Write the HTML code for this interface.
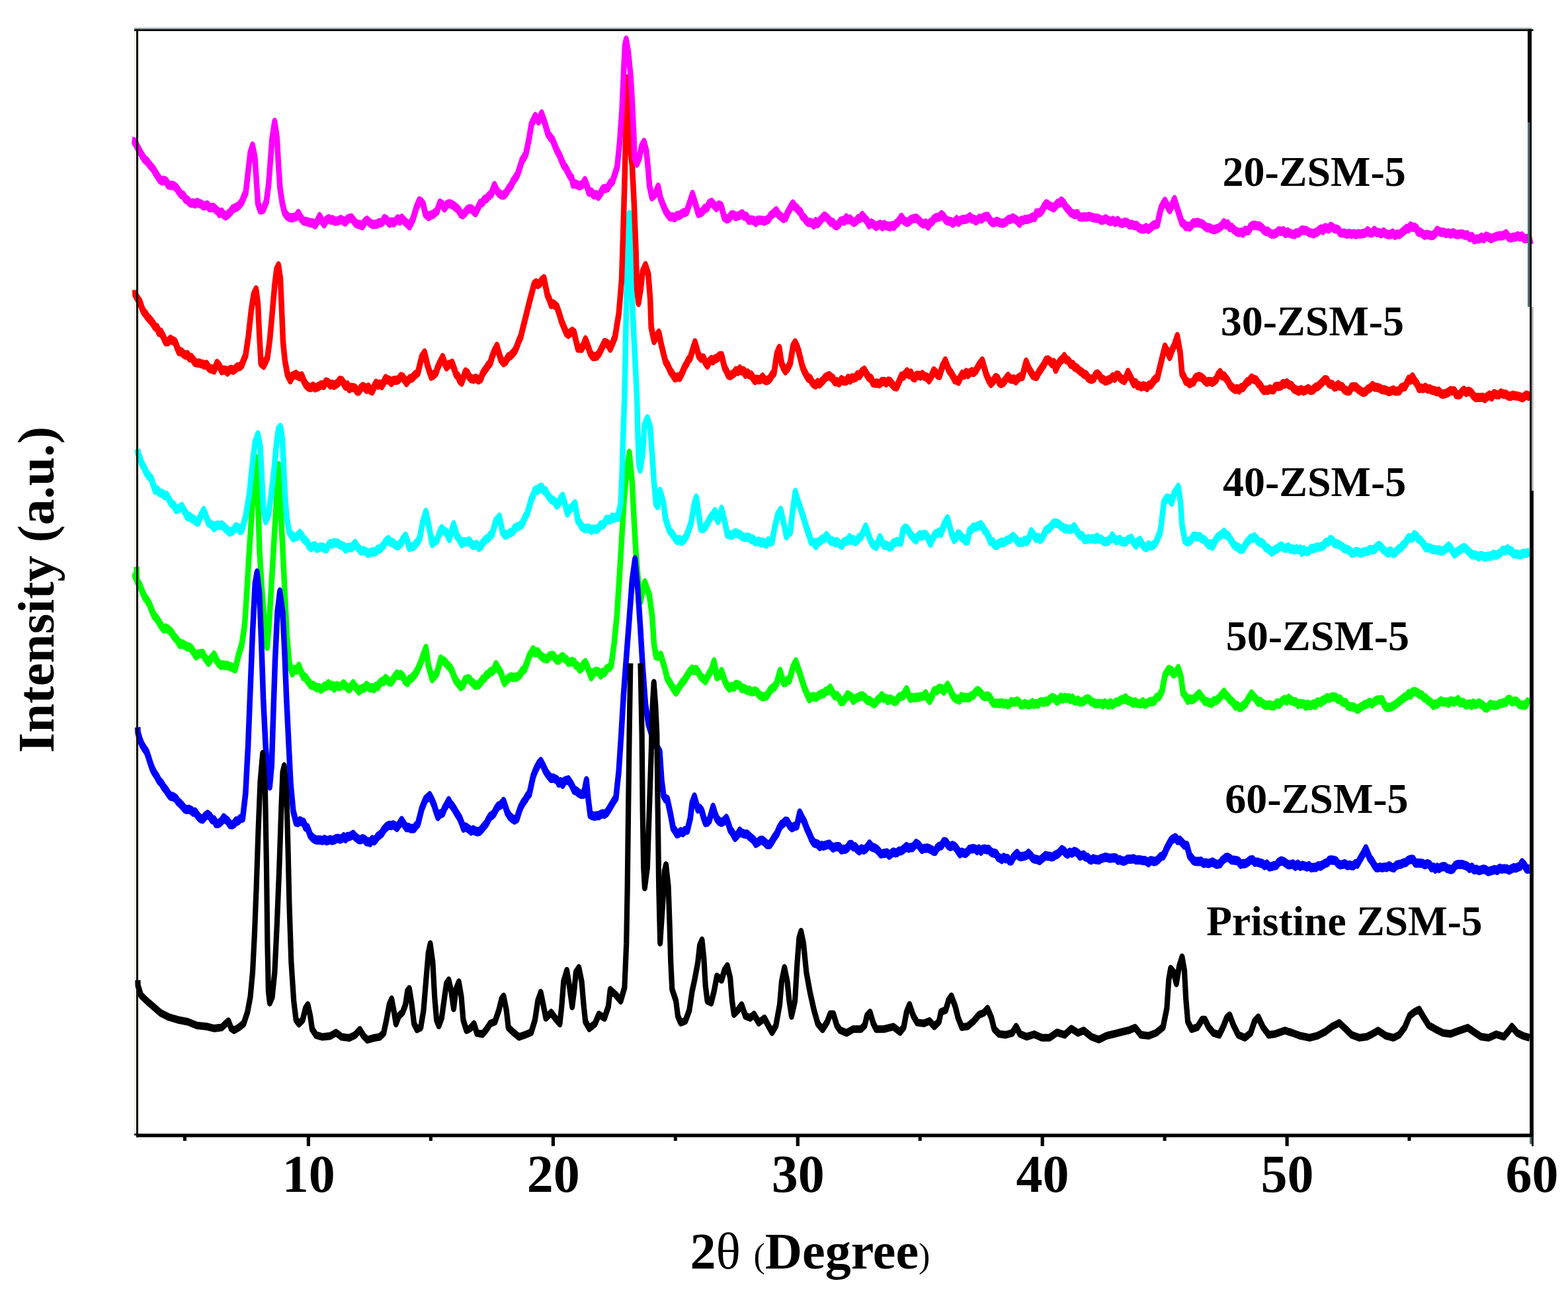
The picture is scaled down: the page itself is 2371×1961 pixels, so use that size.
<!DOCTYPE html>
<html><head><meta charset="utf-8"><title>XRD patterns</title>
<style>
html,body{margin:0;padding:0;background:#fff;}
body{width:2371px;height:1961px;overflow:hidden;position:relative;}
svg{position:absolute;left:0;top:0;display:block;}
text{font-family:"Liberation Serif",serif;font-weight:bold;fill:#000;}
.c{fill:none;stroke-linejoin:round;stroke-linecap:butt;}
</style></head><body>
<svg width="2371" height="1961" viewBox="0 0 2371 1961">
<rect x="0" y="0" width="2371" height="1961" fill="#fff"/>
<rect x="203" y="47" width="3" height="1670" fill="#efefe6"/>
<path class="c" stroke="#00ff00" stroke-width="8.5" transform="scale(1,1.6471)" d="M206.5 520.31 L207.0 531.84 L204.3 528.60 L207.9 533.73 L211.5 537.32 L215.1 542.93 L218.7 547.94 L222.3 550.88 L225.9 554.62 L229.5 560.23 L233.1 565.13 L236.7 567.56 L240.3 570.93 L243.9 574.64 L247.5 577.37 L250.4 576.52 L253.3 577.26 L256.1 578.73 L259.7 580.73 L263.3 584.41 L266.2 586.25 L269.1 588.62 L272.0 591.55 L274.9 590.83 L277.7 591.83 L280.6 592.63 L283.5 593.99 L286.4 593.89 L289.3 595.30 L292.9 598.64 L296.5 602.18 L299.8 600.43 L303.2 600.02 L306.5 599.71 L309.4 603.17 L312.3 605.49 L315.2 608.13 L318.1 605.49 L320.9 603.29 L323.8 601.24 L327.4 605.97 L331.0 609.20 L334.4 610.84 L337.7 610.27 L341.1 610.96 L344.0 610.70 L346.8 611.87 L349.7 612.18 L352.6 613.13 L355.5 614.03 L358.4 607.27 L361.2 600.27 L365.6 591.53 L369.9 574.05 L372.8 547.83 L376.2 512.87 L380.0 477.91 L383.7 442.94 L386.6 420.45 L388.9 442.94 L390.6 469.16 L392.3 504.13 L395.8 539.09 L400.1 574.05 L403.9 593.28 L406.7 574.05 L410.2 539.09 L414.5 495.39 L418.0 460.42 L421.1 427.44 L423.7 460.42 L425.7 483.15 L427.5 504.13 L430.3 539.09 L433.8 582.79 L437.5 609.02 L441.9 617.76 L445.2 614.53 L448.6 615.16 L451.9 611.49 L455.5 617.05 L459.1 621.35 L462.0 621.71 L464.9 624.70 L467.8 626.97 L470.7 629.20 L473.5 629.03 L476.4 630.25 L479.3 631.53 L482.2 631.08 L485.1 632.66 L487.9 631.67 L490.8 629.77 L493.7 629.86 L496.6 627.55 L499.5 629.77 L502.3 628.99 L505.2 631.69 L508.8 629.27 L512.4 630.13 L516.0 629.81 L519.6 627.64 L522.5 629.48 L525.4 631.33 L528.2 632.36 L531.1 629.93 L534.0 627.64 L536.9 630.09 L539.8 631.92 L542.6 634.35 L545.5 632.58 L548.4 632.03 L551.3 631.16 L554.2 629.19 L557.0 630.53 L559.9 631.65 L562.8 631.26 L565.7 632.20 L568.6 629.68 L571.4 630.15 L574.3 627.07 L577.2 625.56 L580.1 625.61 L583.0 622.79 L585.8 624.39 L588.7 626.00 L591.6 626.04 L594.5 623.66 L597.4 620.87 L600.2 618.78 L603.1 620.07 L606.0 619.09 L608.9 620.81 L612.5 625.08 L616.1 626.62 L618.9 623.68 L621.8 622.78 L624.7 621.05 L628.3 618.34 L631.9 614.16 L634.8 610.24 L637.7 605.63 L640.8 600.10 L644.0 595.14 L647.7 610.76 L650.6 616.88 L653.5 623.00 L657.1 620.45 L660.7 617.66 L663.6 611.32 L666.5 604.88 L669.3 606.55 L672.2 607.09 L675.1 609.29 L678.0 611.22 L680.9 613.10 L683.7 616.14 L686.6 621.00 L689.5 624.83 L693.1 627.52 L696.7 630.35 L700.0 629.11 L703.4 623.94 L706.8 623.22 L709.6 623.18 L712.5 625.65 L715.4 626.83 L718.3 629.08 L721.2 628.80 L724.0 628.51 L726.9 626.27 L729.8 623.40 L732.7 622.62 L735.6 619.64 L738.4 618.79 L741.3 616.53 L744.2 616.46 L747.1 614.19 L750.0 610.13 L753.6 614.07 L757.2 617.02 L760.0 622.09 L762.9 626.64 L766.3 623.97 L769.7 622.20 L773.0 621.19 L775.9 621.88 L778.8 621.74 L781.7 621.41 L784.6 620.45 L787.4 618.27 L790.3 615.33 L793.2 614.42 L796.8 608.38 L800.4 602.03 L803.3 599.44 L806.1 596.36 L809.5 599.21 L812.9 598.24 L816.2 600.95 L819.1 602.67 L822.0 604.08 L824.9 604.44 L827.7 604.92 L830.6 602.34 L833.5 601.63 L836.4 601.64 L839.3 604.02 L842.1 605.94 L845.0 605.93 L847.9 603.70 L850.8 602.68 L853.7 604.55 L856.5 605.63 L859.4 608.01 L862.3 607.75 L865.2 607.19 L868.1 607.77 L870.9 610.65 L873.8 611.63 L876.7 614.22 L879.6 612.96 L882.5 609.62 L885.3 608.31 L888.2 612.39 L891.1 616.68 L894.0 621.33 L897.6 617.48 L901.2 616.14 L904.8 616.64 L908.4 619.67 L911.2 617.12 L914.1 617.48 L917.0 614.24 L920.6 613.02 L924.2 610.79 L928.5 591.53 L932.8 565.31 L936.6 530.35 L940.0 495.39 L943.5 460.42 L947.2 434.20 L951.6 416.08 L955.9 442.94 L958.8 477.91 L961.6 507.62 L965.4 535.59 L968.8 551.33 L971.7 542.59 L975.2 534.95 L978.5 541.02 L981.8 546.18 L986.1 565.31 L989.0 591.53 L991.9 602.02 L995.5 602.47 L999.1 601.58 L1001.9 606.70 L1004.8 612.63 L1009.1 623.00 L1012.7 626.36 L1016.3 630.22 L1019.2 632.83 L1022.1 635.39 L1025.7 632.13 L1029.3 628.46 L1032.2 626.16 L1035.1 624.27 L1037.9 621.22 L1040.8 618.55 L1043.7 615.98 L1046.6 614.14 L1049.5 615.50 L1052.3 614.41 L1055.9 617.04 L1059.5 621.03 L1063.1 622.88 L1066.7 624.79 L1069.6 621.62 L1072.5 618.16 L1075.4 615.90 L1079.7 607.50 L1084.0 621.25 L1087.6 619.94 L1091.2 616.45 L1094.1 621.87 L1097.0 626.39 L1099.8 629.38 L1102.7 631.60 L1106.1 630.03 L1109.4 631.00 L1112.8 628.20 L1115.7 628.64 L1118.6 629.22 L1121.4 632.09 L1124.3 631.92 L1127.2 632.61 L1130.1 634.01 L1133.0 633.46 L1135.8 635.09 L1138.7 634.95 L1141.6 634.17 L1144.5 634.99 L1147.4 637.39 L1150.2 638.68 L1153.1 639.65 L1156.0 639.21 L1158.9 638.96 L1161.7 636.57 L1164.6 633.70 L1167.5 631.86 L1171.1 630.64 L1174.7 626.63 L1177.2 621.37 L1179.6 616.24 L1182.2 621.37 L1184.8 626.50 L1187.7 626.58 L1190.5 624.49 L1193.4 624.39 L1196.3 618.63 L1199.2 612.51 L1203.5 607.47 L1206.4 612.77 L1209.3 617.86 L1212.9 624.75 L1216.5 631.74 L1220.1 636.51 L1223.7 641.38 L1227.0 639.77 L1230.4 639.35 L1233.7 640.12 L1236.6 639.04 L1239.5 637.92 L1242.4 636.73 L1245.2 636.83 L1248.6 634.51 L1252.0 634.08 L1255.3 631.51 L1258.9 635.70 L1262.5 638.85 L1265.5 638.44 L1268.5 640.41 L1271.5 644.07 L1274.5 643.93 L1278.1 641.36 L1281.7 637.71 L1284.6 638.71 L1287.4 639.93 L1290.3 642.89 L1293.9 641.13 L1297.5 640.22 L1300.9 639.10 L1304.2 638.75 L1307.6 640.14 L1311.2 642.90 L1314.8 643.01 L1318.4 644.84 L1322.0 645.95 L1324.9 644.25 L1327.7 642.13 L1330.6 641.05 L1333.5 638.64 L1336.4 641.06 L1339.3 640.78 L1342.1 643.08 L1345.5 641.60 L1348.9 642.33 L1352.2 644.02 L1355.6 643.40 L1358.9 640.21 L1362.3 639.09 L1365.2 638.86 L1368.1 635.74 L1370.9 633.10 L1373.8 638.07 L1376.7 641.15 L1379.6 640.20 L1382.5 640.56 L1385.3 640.12 L1388.2 640.20 L1391.1 639.39 L1394.0 639.25 L1396.8 638.91 L1399.7 636.80 L1402.6 640.45 L1405.5 642.99 L1409.1 639.20 L1412.7 633.96 L1416.3 634.07 L1419.9 631.94 L1423.5 631.93 L1427.1 634.52 L1430.0 631.62 L1432.8 628.96 L1436.4 632.91 L1440.0 637.86 L1443.6 640.76 L1447.2 641.74 L1450.6 642.65 L1454.0 639.37 L1457.3 640.43 L1460.2 640.23 L1463.1 640.54 L1466.0 640.22 L1468.8 638.72 L1472.2 637.91 L1475.5 635.04 L1478.9 633.89 L1482.5 635.77 L1486.1 638.71 L1489.5 639.58 L1492.8 638.78 L1496.2 639.67 L1499.1 642.78 L1501.9 645.33 L1505.2 645.77 L1508.4 645.45 L1511.7 645.79 L1514.9 645.04 L1517.8 646.34 L1520.7 645.60 L1523.5 646.89 L1526.4 646.12 L1529.3 644.03 L1532.2 644.62 L1535.1 644.35 L1537.9 643.36 L1540.8 644.61 L1543.7 647.06 L1546.6 646.92 L1549.5 645.83 L1552.3 646.50 L1555.2 647.08 L1558.1 646.62 L1561.0 644.99 L1563.8 646.68 L1566.7 645.89 L1569.6 646.39 L1572.5 644.44 L1575.4 643.98 L1578.2 644.83 L1581.1 643.59 L1584.5 644.16 L1587.8 641.59 L1591.2 640.33 L1594.8 641.12 L1598.4 643.77 L1601.3 642.03 L1604.2 640.02 L1607.0 641.73 L1609.9 640.27 L1612.8 641.11 L1615.7 640.42 L1618.6 642.17 L1621.4 640.74 L1624.3 643.31 L1627.2 643.61 L1630.1 642.68 L1633.0 644.48 L1635.8 644.20 L1638.7 643.77 L1641.6 642.15 L1644.5 641.40 L1647.4 642.18 L1650.2 644.11 L1653.1 644.67 L1656.0 646.05 L1658.9 645.75 L1661.7 645.86 L1664.6 645.81 L1667.5 646.94 L1670.4 645.14 L1673.3 646.43 L1676.1 647.28 L1679.0 645.05 L1681.9 647.11 L1684.8 645.84 L1687.7 644.46 L1691.3 644.51 L1694.9 642.47 L1698.5 642.23 L1702.1 640.52 L1704.9 642.99 L1707.8 643.25 L1710.7 644.23 L1713.6 645.67 L1716.5 644.20 L1719.3 645.50 L1722.2 645.90 L1725.1 646.20 L1728.0 644.13 L1730.9 646.56 L1733.7 645.93 L1736.6 644.94 L1739.5 643.84 L1742.4 644.06 L1745.2 643.77 L1748.8 640.13 L1752.4 639.70 L1757.2 634.20 L1761.5 620.14 L1764.4 617.04 L1767.3 614.40 L1770.9 615.29 L1774.5 618.76 L1778.1 617.20 L1781.7 613.71 L1786.0 621.89 L1788.9 635.88 L1792.5 638.76 L1796.1 642.84 L1798.9 641.33 L1801.8 642.44 L1804.7 641.66 L1807.6 640.39 L1810.5 638.36 L1813.3 636.81 L1816.2 639.36 L1819.1 641.54 L1822.0 643.92 L1825.3 644.16 L1828.7 645.14 L1832.1 645.71 L1835.4 643.26 L1838.8 643.28 L1842.1 641.69 L1845.0 639.73 L1847.9 637.50 L1850.8 635.42 L1853.7 638.22 L1856.5 639.43 L1859.4 642.16 L1862.3 643.63 L1865.2 645.28 L1868.1 648.20 L1870.9 647.49 L1873.8 649.52 L1876.7 649.38 L1879.6 647.67 L1882.5 646.55 L1885.3 644.06 L1888.2 640.95 L1892.5 637.06 L1895.9 639.62 L1899.2 641.53 L1902.6 644.71 L1905.5 643.73 L1908.4 645.44 L1911.2 646.61 L1914.1 647.52 L1917.0 647.16 L1919.9 647.01 L1922.8 647.80 L1925.6 648.15 L1928.5 646.92 L1931.4 645.09 L1934.3 646.56 L1937.2 644.34 L1940.0 642.81 L1942.9 642.09 L1945.8 643.63 L1948.7 640.95 L1952.3 642.99 L1955.9 644.08 L1959.5 644.25 L1963.1 646.63 L1966.0 645.79 L1968.8 646.02 L1971.7 646.18 L1974.6 648.27 L1977.5 646.26 L1980.3 647.60 L1983.2 647.30 L1986.1 645.99 L1989.0 647.40 L1991.9 644.34 L1994.7 644.51 L1997.6 644.90 L2000.5 642.42 L2003.4 642.58 L2006.3 640.43 L2009.9 641.06 L2013.5 639.85 L2017.1 639.54 L2020.7 640.22 L2023.5 642.09 L2026.4 641.65 L2029.3 644.23 L2032.2 644.77 L2035.1 644.95 L2037.9 648.04 L2040.8 648.56 L2043.7 648.82 L2046.6 648.89 L2049.5 649.85 L2052.3 651.09 L2055.2 650.35 L2058.1 648.73 L2061.0 647.89 L2063.8 646.76 L2067.4 646.30 L2071.0 644.58 L2074.6 646.28 L2078.2 644.18 L2081.1 642.88 L2084.0 642.45 L2086.9 642.45 L2089.8 642.30 L2092.6 646.12 L2095.5 648.87 L2099.1 649.52 L2102.7 649.24 L2106.3 648.20 L2109.9 646.66 L2112.8 645.41 L2115.7 643.88 L2118.6 642.54 L2121.4 641.34 L2124.3 639.67 L2127.2 639.24 L2130.1 636.63 L2133.0 638.08 L2135.8 635.16 L2139.4 634.76 L2143.0 635.69 L2146.6 637.52 L2150.2 638.10 L2153.1 640.50 L2156.0 640.80 L2158.9 643.00 L2161.7 643.82 L2164.6 645.43 L2167.5 647.60 L2170.4 646.07 L2173.3 646.47 L2176.1 644.69 L2179.0 643.33 L2181.9 644.43 L2184.8 644.49 L2187.7 644.30 L2190.5 645.66 L2193.4 643.43 L2196.3 643.50 L2199.2 644.66 L2202.1 643.42 L2204.9 642.19 L2207.8 645.19 L2210.7 644.73 L2213.6 645.22 L2216.5 647.25 L2219.3 646.61 L2222.2 646.01 L2225.1 647.63 L2228.0 645.27 L2230.9 646.69 L2233.7 646.16 L2236.6 645.07 L2239.5 646.43 L2242.4 647.56 L2245.2 649.60 L2248.1 650.03 L2251.0 648.55 L2253.9 646.40 L2256.8 647.42 L2260.4 647.52 L2264.0 647.28 L2267.6 645.85 L2271.2 645.66 L2274.0 645.01 L2276.9 644.78 L2279.8 642.31 L2282.7 641.96 L2286.3 644.33 L2289.9 643.54 L2293.5 643.81 L2297.1 646.54 L2300.2 647.09 L2303.4 647.17 L2306.6 647.37 L2309.7 644.32 L2312.9 645.91"/>
<path class="c" stroke="#00ffff" stroke-width="8.5" transform="scale(1,1.6471)" d="M208.2 412.24 L208.6 415.85 L211.5 420.10 L214.4 425.52 L218.0 429.31 L221.6 434.30 L225.2 437.16 L228.8 439.34 L231.7 444.88 L234.6 449.97 L237.4 449.37 L240.3 451.78 L243.2 452.67 L246.1 453.20 L248.9 454.92 L251.8 454.53 L255.4 458.04 L259.0 462.04 L262.6 463.62 L266.2 467.71 L269.1 467.22 L272.0 466.17 L274.9 464.97 L277.7 468.15 L280.6 470.84 L283.5 474.42 L286.4 473.87 L289.3 475.96 L292.1 476.28 L295.7 478.44 L299.3 479.41 L302.2 475.30 L305.1 471.97 L308.0 468.61 L311.6 474.10 L315.2 479.77 L318.1 480.89 L320.9 482.25 L323.8 484.41 L326.7 482.37 L329.6 481.90 L332.5 482.51 L335.3 481.76 L338.2 483.11 L341.1 485.20 L344.0 486.52 L346.8 488.55 L350.2 487.95 L353.6 486.08 L356.9 483.51 L359.8 484.37 L362.7 486.97 L365.6 486.60 L368.4 480.53 L371.3 474.41 L374.2 463.92 L377.1 453.43 L381.4 427.21 L385.7 406.23 L390.0 399.18 L393.5 409.73 L395.8 435.95 L398.1 465.67 L401.6 477.91 L405.9 472.84 L410.2 453.43 L414.5 430.71 L418.3 406.23 L421.1 393.99 L424.0 392.30 L426.9 402.74 L428.9 427.21 L430.9 453.43 L433.8 476.16 L437.5 488.39 L440.4 490.84 L443.3 493.75 L446.7 492.58 L450.0 492.19 L453.4 489.62 L456.3 491.81 L459.1 494.76 L462.0 496.27 L464.9 497.98 L467.8 501.72 L470.7 502.80 L473.5 501.34 L476.4 501.03 L479.3 503.51 L482.2 502.74 L485.1 502.23 L487.9 502.04 L490.8 503.62 L493.7 503.67 L496.6 500.62 L499.5 498.86 L502.3 499.40 L505.2 498.00 L508.1 498.61 L511.0 498.54 L513.8 500.13 L516.7 500.65 L519.6 501.49 L522.5 504.02 L525.4 502.73 L528.2 502.34 L531.1 502.92 L534.0 500.92 L536.9 498.94 L539.8 501.73 L542.6 503.49 L545.5 505.75 L549.1 505.33 L552.7 506.11 L556.3 507.95 L559.9 507.34 L562.8 506.64 L565.7 506.84 L568.6 506.04 L571.4 504.09 L574.3 504.04 L577.2 502.25 L580.1 500.37 L583.7 496.84 L587.3 495.30 L590.6 497.91 L594.0 498.03 L597.4 500.08 L600.2 500.94 L603.1 500.50 L606.0 498.85 L609.6 494.72 L613.2 492.01 L616.1 496.81 L618.9 502.45 L622.3 501.85 L625.7 501.38 L629.0 499.08 L631.9 496.99 L634.8 493.70 L639.1 479.65 L641.5 474.96 L644.0 470.27 L648.6 483.15 L651.1 491.02 L653.5 498.88 L657.1 497.06 L660.7 495.71 L664.3 489.90 L667.9 485.26 L671.5 487.48 L675.1 488.74 L679.4 494.30 L682.7 488.07 L686.0 481.63 L688.5 486.76 L690.9 491.89 L694.5 494.90 L698.1 499.10 L701.0 497.16 L703.9 497.53 L706.8 497.41 L709.6 496.47 L712.5 499.07 L715.4 500.69 L718.3 500.48 L721.2 499.77 L724.0 502.52 L726.9 501.46 L729.8 498.67 L732.7 496.28 L735.6 494.92 L738.4 493.90 L741.3 491.20 L744.2 490.20 L747.1 484.02 L750.0 477.91 L752.5 477.61 L755.1 474.62 L757.6 481.52 L760.0 488.39 L763.6 491.14 L767.2 490.61 L770.2 489.51 L773.0 488.62 L775.9 487.80 L778.8 484.45 L782.2 483.75 L785.5 482.75 L788.9 481.49 L791.8 477.86 L794.6 474.05 L797.5 471.10 L800.4 464.79 L803.3 458.68 L806.1 454.90 L809.0 450.03 L812.6 450.19 L816.2 447.59 L819.1 447.30 L822.0 450.33 L824.9 450.44 L827.7 453.83 L830.6 456.29 L833.5 458.54 L836.4 459.33 L839.3 460.81 L842.1 463.61 L845.0 461.84 L847.9 457.82 L850.8 455.59 L854.4 463.16 L858.0 470.91 L861.6 467.14 L865.2 465.52 L869.5 462.39 L873.8 477.91 L876.7 480.01 L879.6 483.30 L882.5 484.77 L885.3 485.28 L888.2 484.84 L891.1 484.98 L894.0 486.83 L896.8 485.70 L899.7 485.73 L902.6 485.94 L905.5 484.51 L908.4 481.74 L911.2 481.99 L914.1 480.12 L917.0 476.82 L919.9 476.88 L922.8 477.28 L925.6 474.72 L928.5 475.95 L931.4 474.50 L934.3 474.86 L938.6 462.17 L940.6 434.20 L942.3 399.24 L944.4 364.28 L947.2 276.87 L951.6 196.69 L955.9 276.87 L959.5 320.57 L963.1 364.28 L964.5 399.24 L966.0 425.46 L968.0 430.71 L971.7 416.72 L974.6 390.50 L978.9 384.40 L983.2 392.23 L986.1 416.72 L989.0 442.94 L991.9 462.17 L994.2 464.09 L998.2 451.04 L1000.8 456.61 L1003.4 462.17 L1006.3 476.16 L1009.1 481.23 L1012.0 486.62 L1014.9 488.90 L1017.8 491.12 L1020.7 493.79 L1024.0 496.30 L1027.4 495.12 L1030.7 496.97 L1034.3 495.47 L1037.9 492.12 L1041.5 486.27 L1045.1 479.74 L1049.5 463.92 L1052.9 457.16 L1056.7 472.66 L1059.5 484.90 L1063.1 485.33 L1066.7 483.48 L1069.6 480.45 L1072.5 476.98 L1075.4 474.21 L1078.2 472.47 L1081.1 469.56 L1085.4 477.91 L1088.3 473.39 L1091.2 467.54 L1095.5 477.91 L1099.8 490.14 L1103.2 490.90 L1106.6 491.50 L1109.9 489.86 L1112.8 489.08 L1115.7 489.99 L1118.6 490.57 L1121.4 492.06 L1124.3 493.12 L1127.2 493.33 L1130.1 493.14 L1133.0 493.22 L1135.8 495.35 L1138.7 494.76 L1141.6 497.37 L1144.5 497.34 L1147.4 496.77 L1150.2 498.28 L1153.1 497.41 L1156.0 498.79 L1158.9 499.43 L1161.7 496.46 L1164.6 497.69 L1167.5 497.07 L1171.8 483.15 L1176.1 472.66 L1180.5 468.42 L1184.8 479.65 L1189.1 491.89 L1192.0 488.77 L1194.9 488.42 L1198.6 469.16 L1202.6 451.91 L1205.2 457.04 L1207.8 462.17 L1210.7 467.15 L1213.6 472.47 L1217.2 479.65 L1220.8 486.65 L1223.7 491.73 L1226.5 497.22 L1230.1 497.56 L1233.7 500.90 L1236.6 497.57 L1239.5 497.04 L1242.4 495.26 L1246.0 494.44 L1249.6 491.62 L1253.2 494.57 L1256.8 497.04 L1259.6 496.58 L1262.5 498.16 L1265.4 497.14 L1269.2 499.19 L1273.0 500.61 L1275.9 497.73 L1278.8 496.65 L1281.7 496.76 L1284.6 493.47 L1287.4 496.11 L1290.3 495.30 L1293.2 497.31 L1296.1 496.03 L1298.9 493.59 L1301.8 492.62 L1305.4 488.70 L1309.0 483.80 L1312.6 490.02 L1316.2 495.97 L1319.1 499.05 L1322.0 500.61 L1324.9 501.63 L1327.7 497.83 L1330.6 493.56 L1333.5 497.20 L1336.4 500.42 L1339.3 500.56 L1342.1 500.90 L1345.0 502.28 L1347.9 501.65 L1350.8 498.40 L1353.7 497.97 L1356.5 497.13 L1359.4 497.57 L1362.3 497.67 L1365.2 487.28 L1368.1 484.81 L1370.9 485.03 L1373.8 487.19 L1376.7 490.47 L1379.6 492.41 L1382.5 494.58 L1385.3 495.61 L1388.2 492.44 L1391.1 490.72 L1394.0 492.27 L1396.8 490.48 L1399.7 490.62 L1403.3 494.17 L1406.9 498.80 L1410.5 494.00 L1414.1 490.09 L1417.0 489.80 L1419.9 488.31 L1422.8 489.50 L1425.6 485.29 L1428.5 480.41 L1432.8 476.20 L1435.7 482.59 L1438.6 489.03 L1442.9 495.27 L1445.8 493.35 L1448.7 489.99 L1451.6 490.70 L1454.4 493.73 L1457.3 494.20 L1460.2 496.68 L1463.1 496.34 L1466.0 487.28 L1468.8 486.19 L1471.7 483.88 L1474.6 483.89 L1477.5 483.31 L1480.3 482.45 L1483.2 481.66 L1486.1 483.91 L1489.0 487.11 L1491.9 489.08 L1494.7 492.43 L1497.6 497.05 L1501.0 497.02 L1504.3 500.51 L1507.7 500.80 L1511.1 498.56 L1514.4 497.70 L1517.8 497.96 L1520.7 496.76 L1523.5 495.63 L1526.4 495.39 L1529.3 493.44 L1532.2 492.41 L1535.1 494.17 L1537.9 496.46 L1540.8 497.97 L1543.7 497.40 L1546.6 497.89 L1549.5 495.91 L1552.3 497.29 L1555.2 495.05 L1559.5 488.20 L1563.1 491.07 L1566.7 494.28 L1569.6 493.25 L1572.5 495.13 L1575.4 494.12 L1578.2 491.16 L1581.1 487.16 L1584.0 485.80 L1586.9 484.87 L1589.8 482.64 L1592.6 480.62 L1595.5 479.97 L1598.4 480.35 L1601.3 481.24 L1604.2 483.12 L1607.0 483.97 L1609.9 485.52 L1612.8 485.16 L1615.7 485.87 L1618.6 485.98 L1621.4 485.29 L1624.3 483.54 L1627.2 486.29 L1630.1 489.13 L1633.0 491.60 L1636.3 491.58 L1639.7 495.32 L1643.0 495.07 L1646.4 494.35 L1649.8 494.72 L1653.1 494.52 L1656.0 495.32 L1658.9 493.06 L1661.7 495.17 L1664.6 494.69 L1668.0 496.66 L1671.3 497.42 L1674.7 496.97 L1678.3 495.62 L1681.9 491.97 L1684.8 494.37 L1687.7 496.19 L1690.5 495.91 L1693.4 495.13 L1696.3 497.40 L1699.2 497.31 L1702.1 497.58 L1704.9 495.58 L1707.8 494.94 L1710.7 494.15 L1714.3 498.01 L1717.9 500.29 L1720.8 497.13 L1723.7 495.88 L1727.3 499.88 L1730.9 502.10 L1733.7 502.78 L1736.6 500.20 L1739.5 501.25 L1742.4 500.88 L1745.2 499.80 L1748.1 497.48 L1751.0 493.37 L1753.9 489.18 L1755.8 482.04 L1760.1 461.06 L1764.4 457.12 L1768.0 457.71 L1771.6 461.15 L1775.9 452.32 L1778.8 450.43 L1781.7 447.36 L1785.1 461.06 L1787.4 482.04 L1791.8 496.02 L1795.3 497.36 L1798.9 496.71 L1801.8 495.20 L1804.7 492.02 L1807.6 492.17 L1810.9 492.88 L1814.3 492.47 L1817.7 494.69 L1821.3 495.55 L1824.9 498.21 L1827.7 500.23 L1830.6 499.07 L1833.5 501.42 L1836.4 497.78 L1839.3 494.69 L1842.1 492.64 L1845.0 491.51 L1847.9 490.27 L1850.8 488.59 L1853.7 491.04 L1856.5 491.29 L1859.4 494.21 L1862.3 496.75 L1865.2 499.52 L1868.1 501.34 L1870.9 501.89 L1873.8 503.59 L1876.7 504.32 L1879.6 503.65 L1882.5 500.77 L1885.3 497.87 L1888.2 496.20 L1891.1 494.03 L1894.0 494.10 L1896.8 492.78 L1900.2 494.93 L1903.6 497.49 L1906.9 497.92 L1910.5 499.36 L1914.1 502.95 L1917.0 503.19 L1919.9 504.98 L1922.8 506.74 L1925.6 505.74 L1928.5 504.41 L1931.4 503.90 L1934.3 501.97 L1937.7 501.19 L1941.2 503.09 L1944.6 503.40 L1948.1 501.92 L1951.6 504.36 L1954.4 503.79 L1957.3 504.87 L1960.2 503.69 L1963.1 504.69 L1966.0 504.00 L1968.8 507.12 L1971.7 504.63 L1974.6 506.11 L1977.5 506.36 L1980.3 505.01 L1983.2 503.33 L1986.1 503.44 L1989.0 503.21 L1991.9 501.98 L1994.7 502.37 L1997.6 501.68 L2001.2 500.97 L2004.8 497.90 L2008.4 497.72 L2012.0 495.12 L2014.9 496.06 L2017.8 499.01 L2020.7 499.23 L2023.5 499.43 L2026.4 500.75 L2029.3 501.51 L2032.2 503.45 L2035.1 503.91 L2037.9 504.62 L2040.8 505.38 L2043.7 507.71 L2046.6 507.68 L2050.2 506.36 L2053.8 506.63 L2057.4 508.00 L2061.0 506.73 L2064.6 506.40 L2068.2 506.05 L2071.8 504.26 L2075.4 504.83 L2078.7 504.16 L2082.1 501.82 L2085.4 500.54 L2088.8 502.37 L2092.2 504.86 L2095.5 506.25 L2099.1 507.75 L2102.7 505.58 L2106.3 508.03 L2109.9 507.41 L2112.8 505.14 L2115.7 503.69 L2118.6 502.80 L2121.4 500.15 L2124.3 499.13 L2127.2 495.92 L2130.1 493.46 L2133.0 494.02 L2135.8 493.77 L2138.7 490.81 L2141.6 491.85 L2144.5 494.66 L2147.4 495.53 L2150.2 497.73 L2153.1 499.75 L2156.0 502.84 L2158.9 502.90 L2162.5 503.02 L2166.1 504.55 L2169.7 504.55 L2173.3 505.12 L2176.1 504.85 L2179.0 505.78 L2181.9 505.65 L2184.8 504.59 L2187.7 502.85 L2190.5 501.18 L2193.4 503.16 L2196.3 505.85 L2199.2 508.50 L2202.8 506.82 L2206.4 505.32 L2210.0 503.68 L2213.6 502.63 L2216.5 503.60 L2219.3 505.41 L2222.2 506.93 L2225.1 509.20 L2228.7 509.29 L2232.3 509.90 L2235.9 511.17 L2239.5 509.86 L2242.4 510.40 L2245.2 511.56 L2248.1 510.77 L2251.0 510.34 L2254.6 510.78 L2258.2 508.61 L2261.8 509.78 L2265.4 508.99 L2269.0 507.21 L2272.6 505.02 L2276.2 505.61 L2279.8 503.65 L2282.7 505.64 L2285.6 505.55 L2288.4 508.33 L2291.3 508.55 L2294.2 508.63 L2297.1 509.22 L2300.0 509.14 L2302.8 507.80 L2306.2 508.06 L2309.6 507.57 L2312.9 506.38"/>
<path class="c" stroke="#ff0000" stroke-width="8.5" transform="scale(1,1.6471)" d="M204.4 266.23 L204.3 270.28 L207.9 273.91 L211.5 277.11 L214.4 282.43 L217.3 286.23 L220.2 288.29 L223.0 290.95 L225.9 292.86 L228.8 294.86 L231.7 297.31 L234.6 300.09 L237.4 300.77 L240.3 305.09 L243.2 304.80 L246.8 309.09 L250.4 313.77 L254.0 313.70 L257.6 311.45 L261.2 312.69 L264.8 313.80 L267.7 318.58 L270.5 322.67 L273.9 322.90 L277.3 324.82 L280.6 326.02 L283.5 325.48 L286.4 328.48 L289.3 328.15 L292.1 330.27 L295.0 332.76 L297.9 333.10 L300.8 333.24 L303.7 333.82 L306.5 334.20 L309.4 335.13 L312.3 334.45 L315.2 337.17 L318.1 338.49 L320.9 338.80 L323.8 339.72 L328.1 333.55 L331.7 335.99 L335.3 340.24 L338.2 339.61 L341.1 339.79 L344.0 341.63 L346.8 339.60 L349.7 339.02 L352.6 339.96 L355.5 338.69 L358.8 336.82 L362.2 336.64 L365.6 334.93 L368.4 330.59 L371.3 326.41 L375.6 308.74 L380.0 284.26 L383.7 270.28 L387.2 266.04 L390.0 279.02 L392.3 308.74 L394.6 333.21 L398.7 335.34 L401.6 331.79 L404.4 328.06 L407.9 312.23 L411.6 287.76 L415.4 261.54 L418.3 247.55 L421.1 244.03 L424.0 256.29 L426.0 284.26 L428.0 313.98 L430.9 331.46 L434.7 343.70 L439.0 348.73 L441.9 345.39 L444.7 344.49 L447.6 343.51 L450.5 345.13 L453.4 345.80 L456.3 345.06 L459.1 349.29 L462.0 352.58 L464.9 354.66 L467.8 355.76 L470.7 355.57 L473.5 354.41 L476.4 356.06 L479.3 355.44 L482.2 354.59 L485.8 353.19 L489.4 353.88 L493.0 350.51 L496.6 351.39 L499.5 353.32 L502.3 352.55 L505.2 353.75 L508.1 352.68 L511.0 351.49 L513.8 349.02 L516.7 349.34 L519.6 351.76 L522.5 354.52 L525.4 353.38 L528.2 356.84 L531.1 355.68 L534.0 355.81 L536.9 356.37 L539.8 359.05 L542.6 359.11 L545.5 356.31 L548.4 354.73 L551.3 355.45 L554.2 357.43 L557.0 355.27 L559.9 358.19 L562.8 358.92 L565.7 355.11 L568.6 351.83 L571.4 353.63 L574.3 352.50 L577.2 353.96 L580.1 351.08 L583.0 347.45 L585.8 348.63 L588.7 349.04 L591.6 351.14 L595.2 349.10 L598.8 349.13 L602.4 348.65 L606.0 345.58 L608.9 346.13 L611.7 348.65 L614.6 351.12 L617.5 348.91 L620.4 347.36 L623.3 347.03 L626.1 345.01 L629.0 343.52 L631.9 342.12 L634.8 334.96 L637.7 327.97 L642.0 323.92 L646.3 334.96 L649.2 340.52 L652.1 345.38 L655.7 344.25 L659.3 342.00 L662.1 336.95 L665.0 333.23 L669.3 328.10 L672.2 332.75 L675.1 336.83 L678.0 334.74 L680.9 334.31 L683.7 333.39 L686.6 338.22 L689.5 343.46 L692.4 345.26 L695.2 349.20 L698.1 350.81 L701.0 345.90 L703.9 341.39 L706.8 342.48 L709.6 345.95 L712.5 347.66 L716.1 348.12 L719.7 347.08 L723.3 348.84 L726.9 347.63 L729.8 342.95 L732.7 340.16 L735.6 337.79 L738.4 335.16 L741.3 333.27 L744.2 327.36 L747.1 322.85 L751.4 317.89 L754.3 323.71 L757.2 329.71 L761.5 332.99 L764.9 331.49 L768.4 327.67 L771.9 326.56 L775.3 324.37 L778.8 321.84 L781.7 317.78 L784.6 312.92 L787.4 309.23 L791.0 300.37 L794.6 291.63 L798.2 282.89 L801.8 274.15 L804.7 267.60 L807.6 261.04 L810.5 259.55 L813.3 261.18 L816.2 260.08 L819.4 257.30 L822.6 255.76 L825.2 263.34 L827.7 270.66 L830.6 274.54 L833.5 279.55 L836.4 278.90 L839.3 280.23 L842.1 281.70 L845.7 287.99 L849.3 295.25 L852.9 300.52 L856.5 305.70 L859.4 306.98 L862.3 305.44 L865.2 304.05 L868.1 305.30 L870.9 312.61 L873.8 319.60 L876.7 319.66 L879.6 319.82 L882.5 316.50 L885.3 311.97 L888.9 317.51 L892.5 324.02 L896.1 327.20 L899.7 327.30 L902.6 326.90 L905.5 324.76 L908.4 321.43 L911.2 317.94 L914.1 314.40 L917.0 314.94 L919.9 316.37 L922.8 319.72 L926.4 314.72 L930.0 309.37 L932.8 298.63 L935.7 288.14 L940.0 256.67 L942.3 212.97 L944.4 169.26 L946.4 116.82 L947.8 72.47 L949.8 116.82 L952.9 134.30 L955.9 151.78 L958.8 186.74 L961.6 230.45 L963.1 265.41 L965.4 277.65 L968.8 265.41 L971.7 249.68 L976.0 243.84 L980.3 251.68 L983.2 274.15 L984.7 300.37 L989.0 312.61 L992.6 309.06 L996.2 305.66 L1000.5 317.85 L1003.4 324.85 L1006.3 331.84 L1009.9 335.46 L1013.5 340.47 L1017.1 343.69 L1020.7 346.95 L1024.3 346.01 L1027.9 346.43 L1031.5 342.27 L1035.1 337.03 L1037.9 334.27 L1040.8 330.66 L1043.7 328.52 L1047.3 321.47 L1050.9 314.59 L1053.8 320.59 L1056.7 326.60 L1060.3 328.90 L1063.8 328.60 L1066.7 332.58 L1069.6 335.25 L1072.5 331.92 L1075.4 329.99 L1078.2 331.15 L1081.1 329.41 L1084.0 328.91 L1087.6 326.84 L1091.2 326.48 L1095.5 337.08 L1098.4 340.48 L1101.3 344.29 L1104.2 344.80 L1107.0 343.79 L1109.9 342.59 L1112.8 340.19 L1115.7 341.09 L1118.6 338.78 L1121.4 340.53 L1124.3 340.24 L1127.2 343.60 L1130.1 342.23 L1133.0 344.10 L1135.8 344.24 L1138.7 346.94 L1141.6 349.41 L1144.5 348.06 L1147.4 348.68 L1150.2 348.36 L1153.1 346.17 L1156.0 348.77 L1158.9 349.42 L1161.7 348.87 L1164.6 347.28 L1167.5 343.97 L1170.4 342.41 L1174.7 324.85 L1178.4 319.77 L1181.9 333.59 L1184.8 337.69 L1187.7 340.35 L1191.3 337.84 L1194.9 333.36 L1199.2 317.85 L1202.4 314.60 L1205.0 317.80 L1207.6 322.27 L1210.5 329.45 L1213.3 336.45 L1216.2 340.77 L1219.1 344.01 L1222.0 347.15 L1224.9 347.40 L1227.7 350.63 L1230.6 352.53 L1233.5 353.29 L1236.4 351.18 L1239.3 352.47 L1242.1 350.55 L1245.0 348.87 L1247.9 346.57 L1250.8 345.57 L1253.7 344.81 L1256.5 346.07 L1259.4 347.45 L1262.3 350.39 L1265.2 350.35 L1268.8 351.43 L1272.4 348.45 L1276.0 349.88 L1279.6 349.77 L1282.5 347.24 L1285.3 348.91 L1288.2 346.86 L1291.1 347.06 L1294.0 346.48 L1296.8 343.95 L1299.7 344.77 L1303.3 341.37 L1306.9 339.80 L1310.5 343.46 L1314.1 346.71 L1317.0 347.33 L1319.9 351.32 L1322.8 351.77 L1326.4 351.72 L1330.0 352.29 L1333.6 350.23 L1337.2 350.11 L1340.0 351.51 L1342.9 349.84 L1345.8 350.14 L1348.7 352.47 L1352.3 354.74 L1355.9 355.16 L1359.5 350.36 L1363.1 345.19 L1366.0 345.36 L1368.8 343.24 L1371.7 341.32 L1374.6 343.92 L1377.5 342.48 L1380.3 346.28 L1383.2 347.02 L1386.1 344.46 L1389.0 344.47 L1391.9 345.22 L1394.7 343.70 L1398.1 345.55 L1401.5 346.29 L1404.8 348.75 L1408.4 345.07 L1412.0 340.42 L1414.9 342.02 L1417.8 344.30 L1420.7 344.77 L1425.0 336.45 L1429.3 331.25 L1432.2 335.79 L1435.1 340.11 L1437.9 342.21 L1440.8 345.17 L1443.7 348.68 L1446.6 348.89 L1449.5 350.06 L1452.3 346.35 L1455.2 343.40 L1458.1 344.22 L1461.0 341.88 L1463.8 343.82 L1466.7 342.13 L1469.6 341.13 L1472.5 341.97 L1475.4 340.31 L1478.2 337.45 L1481.1 334.52 L1485.4 331.29 L1488.3 337.44 L1491.2 343.44 L1494.8 348.47 L1498.4 352.01 L1502.0 349.61 L1505.6 346.50 L1508.5 347.39 L1511.4 351.45 L1514.2 352.00 L1517.6 350.85 L1521.0 347.95 L1524.3 345.26 L1527.2 347.77 L1530.1 348.15 L1533.0 347.91 L1535.8 349.63 L1539.2 347.40 L1542.6 345.92 L1545.9 345.63 L1548.8 338.75 L1551.7 332.31 L1555.3 337.81 L1558.9 341.52 L1561.7 344.56 L1564.6 345.33 L1567.5 345.56 L1571.1 341.46 L1574.7 338.16 L1578.3 335.03 L1581.9 330.75 L1584.8 330.31 L1587.7 331.57 L1590.5 333.80 L1593.4 332.65 L1596.3 339.07 L1599.9 334.46 L1603.5 331.16 L1606.4 329.75 L1609.3 327.44 L1612.6 330.25 L1616.0 331.32 L1619.3 334.53 L1622.2 334.53 L1625.1 337.21 L1628.0 337.66 L1630.9 339.50 L1633.7 340.77 L1636.6 342.08 L1639.5 343.64 L1642.4 344.01 L1645.2 346.82 L1648.1 347.87 L1651.0 348.14 L1653.9 347.39 L1656.8 343.94 L1659.6 343.21 L1662.5 344.88 L1665.4 347.75 L1668.3 348.38 L1671.2 349.72 L1674.0 349.46 L1676.9 348.70 L1679.8 347.79 L1682.7 345.80 L1685.6 347.23 L1688.4 344.25 L1691.3 344.54 L1694.2 347.09 L1697.1 348.35 L1700.0 349.29 L1702.8 346.38 L1705.7 341.83 L1708.6 345.20 L1711.5 348.66 L1714.4 352.28 L1717.2 351.27 L1720.1 353.96 L1723.0 354.10 L1725.9 355.11 L1728.8 354.13 L1731.6 354.61 L1734.5 355.74 L1737.4 353.48 L1740.6 353.17 L1743.7 350.32 L1746.9 348.00 L1750.1 346.71 L1752.9 339.62 L1755.8 332.31 L1758.6 325.43 L1761.5 318.56 L1765.1 322.33 L1768.7 327.24 L1772.3 321.32 L1775.9 316.81 L1780.2 308.95 L1784.6 323.57 L1787.4 342.80 L1790.3 345.93 L1793.2 349.94 L1796.1 350.65 L1798.9 352.27 L1801.8 351.18 L1804.7 350.72 L1807.6 346.99 L1810.5 346.05 L1813.3 345.57 L1816.2 346.27 L1819.1 347.42 L1822.0 349.65 L1824.9 350.92 L1827.7 350.16 L1830.6 350.26 L1833.5 350.97 L1836.4 349.51 L1839.3 348.09 L1842.1 343.89 L1845.0 342.09 L1847.9 345.17 L1850.8 345.07 L1853.7 347.31 L1856.5 349.46 L1859.4 352.93 L1862.3 355.09 L1865.2 356.57 L1868.1 357.50 L1870.9 356.77 L1873.8 358.04 L1876.7 355.84 L1879.6 355.73 L1882.5 353.32 L1885.8 350.60 L1889.2 349.64 L1892.5 346.98 L1895.9 348.25 L1899.2 348.80 L1902.6 351.87 L1905.5 353.67 L1908.4 356.57 L1911.2 358.45 L1914.1 358.03 L1917.0 358.35 L1919.9 357.06 L1922.8 357.71 L1925.6 357.93 L1928.5 354.90 L1931.4 354.67 L1934.3 354.55 L1937.2 354.18 L1940.0 352.08 L1942.9 352.66 L1945.8 351.43 L1949.4 353.33 L1953.0 353.97 L1956.6 357.03 L1960.2 357.98 L1963.8 359.22 L1967.4 357.54 L1971.0 358.98 L1974.6 358.03 L1978.2 356.67 L1981.8 358.42 L1985.4 357.91 L1989.0 355.56 L1992.6 354.86 L1996.2 352.73 L1999.8 350.58 L2003.4 348.49 L2006.3 348.78 L2009.1 351.92 L2012.0 352.79 L2014.9 352.97 L2017.8 355.31 L2020.7 354.96 L2023.5 353.09 L2026.4 354.56 L2029.3 354.79 L2032.2 357.34 L2035.1 358.42 L2037.9 358.97 L2040.8 358.75 L2043.7 355.35 L2046.6 354.96 L2050.2 355.11 L2053.8 357.40 L2057.4 358.77 L2061.0 360.16 L2064.6 359.68 L2068.2 357.29 L2071.8 356.24 L2075.4 353.89 L2079.0 355.46 L2082.6 355.64 L2086.2 356.32 L2089.8 357.70 L2093.4 357.74 L2097.0 358.67 L2100.6 359.51 L2104.2 358.71 L2107.0 357.92 L2109.9 359.19 L2112.8 359.04 L2115.7 359.02 L2118.6 356.10 L2121.4 355.31 L2124.3 355.01 L2127.2 351.75 L2130.1 348.07 L2133.0 349.03 L2135.8 345.88 L2139.2 349.54 L2142.6 352.24 L2145.9 356.69 L2149.1 356.22 L2152.2 356.73 L2155.4 355.50 L2158.6 357.23 L2161.7 356.90 L2165.2 358.14 L2168.7 358.51 L2172.1 359.60 L2175.6 358.97 L2179.0 361.49 L2182.6 361.81 L2186.2 361.15 L2189.8 360.27 L2193.4 358.50 L2196.3 358.88 L2199.2 358.87 L2202.1 362.18 L2204.9 362.40 L2207.8 362.13 L2210.7 359.61 L2213.6 358.20 L2217.2 360.32 L2220.8 359.11 L2224.4 360.18 L2228.0 363.29 L2231.4 365.03 L2234.9 364.69 L2238.3 364.88 L2241.8 364.65 L2245.2 365.89 L2248.7 364.10 L2252.2 362.61 L2255.6 364.46 L2259.1 361.24 L2262.5 362.25 L2266.1 362.54 L2269.7 360.71 L2273.3 361.82 L2276.9 361.80 L2280.5 363.51 L2284.1 363.85 L2287.7 362.76 L2291.3 363.43 L2294.2 363.46 L2297.1 364.01 L2300.0 364.79 L2302.8 365.11 L2305.7 363.61 L2308.6 362.58 L2311.5 363.77 L2314.4 362.83"/>
<path class="c" stroke="#ff00ff" stroke-width="8.5" transform="scale(1,1.6471)" d="M204.6 126.28 L203.5 130.63 L206.1 132.82 L208.8 136.14 L211.5 139.15 L215.0 142.86 L218.4 146.13 L221.9 147.88 L225.3 150.51 L228.8 153.05 L232.2 155.58 L235.7 159.22 L239.2 162.56 L242.2 165.19 L245.3 166.17 L248.4 165.41 L251.4 166.57 L254.5 169.76 L257.6 170.17 L260.6 170.08 L263.7 170.82 L266.8 172.42 L270.2 175.59 L273.7 178.40 L277.2 179.28 L280.6 182.83 L283.5 183.60 L286.4 185.82 L289.2 186.59 L292.1 186.21 L295.2 187.29 L298.3 185.74 L301.3 186.75 L304.4 187.37 L307.5 189.12 L310.5 188.72 L313.6 188.08 L316.7 190.75 L319.8 190.47 L322.8 190.32 L325.9 192.21 L329.0 193.69 L332.0 196.08 L335.1 194.61 L338.2 197.10 L341.6 198.29 L345.1 196.46 L348.5 194.64 L352.0 191.73 L355.5 190.78 L358.9 189.84 L362.4 187.91 L365.8 185.19 L368.7 180.70 L371.6 176.95 L375.0 158.59 L378.5 140.41 L381.9 134.00 L385.4 144.61 L387.7 165.58 L390.0 186.56 L393.5 192.78 L398.1 192.13 L402.7 185.29 L406.1 169.78 L408.4 151.60 L411.4 127.83 L415.3 112.33 L418.8 126.43 L421.1 151.60 L423.4 172.57 L426.9 186.56 L430.3 194.95 L433.8 198.11 L437.2 199.54 L440.7 200.01 L444.1 199.59 L447.6 198.86 L451.0 195.94 L455.6 200.65 L459.1 202.85 L462.6 203.35 L465.6 203.78 L468.7 204.55 L471.8 204.37 L476.4 206.31 L479.8 203.19 L483.3 198.85 L486.7 202.66 L490.2 205.54 L493.6 201.99 L497.1 200.66 L500.2 202.18 L503.2 201.64 L506.3 203.14 L509.4 203.01 L512.5 202.37 L515.5 201.37 L519.0 202.81 L522.4 203.87 L525.5 201.17 L528.6 200.31 L531.6 200.11 L534.7 202.41 L537.8 204.98 L540.9 205.84 L544.3 206.11 L547.8 207.28 L551.2 203.99 L554.7 202.04 L557.7 203.66 L560.8 205.24 L563.9 206.11 L567.0 205.82 L570.0 205.88 L573.1 204.39 L575.8 204.54 L578.5 203.59 L581.2 200.66 L583.8 201.53 L586.5 203.14 L589.2 205.02 L592.3 203.51 L595.4 204.52 L598.4 202.95 L601.5 200.89 L604.6 202.91 L607.6 200.32 L611.1 202.71 L614.6 204.71 L619.2 207.37 L622.0 203.96 L624.9 200.38 L629.5 190.75 L634.1 184.38 L637.0 185.30 L639.9 187.59 L643.3 196.34 L648.0 198.84 L651.4 197.45 L654.9 196.78 L657.7 195.28 L660.6 194.04 L665.2 186.39 L668.7 187.78 L672.1 190.97 L676.0 187.54 L680.0 186.95 L683.3 187.76 L686.6 189.05 L690.0 190.74 L693.3 192.54 L696.7 196.39 L700.0 197.10 L703.2 195.32 L706.3 192.74 L709.5 191.68 L712.7 191.74 L715.9 193.47 L719.0 195.29 L722.6 191.03 L726.2 186.66 L729.4 186.12 L732.5 183.08 L735.7 182.32 L739.3 179.78 L742.9 178.03 L747.6 170.34 L751.2 174.96 L754.8 177.56 L758.3 178.92 L761.9 179.10 L765.5 176.87 L769.0 173.28 L772.6 170.52 L776.2 165.98 L779.8 163.02 L783.3 159.11 L786.3 153.23 L789.3 147.45 L792.3 144.57 L795.2 141.50 L800.0 127.21 L803.6 114.20 L806.5 110.35 L809.5 106.87 L814.3 111.16 L819.0 104.56 L823.8 112.93 L828.6 122.87 L832.1 125.85 L835.7 128.54 L840.5 135.94 L843.5 139.72 L846.4 142.92 L849.4 147.59 L852.4 151.82 L855.4 154.01 L858.3 157.46 L861.3 161.07 L864.3 163.39 L866.7 169.13 L869.8 168.67 L873.0 169.73 L876.2 170.53 L879.0 169.81 L881.7 168.86 L884.5 165.74 L887.5 170.49 L890.5 176.33 L894.0 176.17 L897.6 178.89 L901.2 178.63 L904.8 180.27 L908.3 177.29 L911.9 173.26 L915.5 172.97 L919.0 172.49 L922.6 168.52 L926.2 166.37 L929.8 159.88 L933.3 153.06 L937.1 130.10 L940.5 101.19 L943.1 65.05 L945.0 41.92 L946.9 36.79 L950.0 47.70 L953.6 69.39 L956.0 93.96 L958.3 122.87 L959.5 144.55 L963.1 149.84 L966.7 144.67 L970.2 134.44 L973.8 130.69 L977.4 138.77 L979.8 153.23 L982.1 170.57 L985.7 180.69 L990.5 178.20 L995.2 171.75 L998.8 182.14 L1003.6 189.54 L1006.5 193.56 L1009.5 196.40 L1013.1 199.09 L1016.7 199.05 L1020.2 199.81 L1023.8 197.82 L1027.4 197.77 L1031.0 196.16 L1034.5 194.99 L1038.1 194.67 L1042.9 186.23 L1047.1 178.45 L1051.2 186.47 L1056.0 195.87 L1058.9 195.17 L1061.9 194.47 L1065.5 191.34 L1069.0 190.95 L1072.6 186.72 L1076.2 185.66 L1079.8 188.28 L1083.3 190.51 L1086.9 188.15 L1090.5 188.98 L1095.2 199.48 L1098.8 201.04 L1102.4 200.30 L1106.0 197.16 L1109.5 197.34 L1112.7 198.89 L1115.9 198.22 L1119.0 197.51 L1122.2 196.23 L1125.4 198.55 L1128.6 198.49 L1132.1 202.22 L1135.7 201.88 L1139.3 202.16 L1142.9 204.21 L1146.0 202.05 L1149.2 202.18 L1152.4 202.18 L1155.6 203.19 L1158.7 202.08 L1161.9 201.37 L1165.5 197.71 L1169.0 196.17 L1173.8 193.47 L1177.4 197.10 L1181.0 198.88 L1184.5 200.60 L1188.1 199.70 L1191.1 195.16 L1194.0 192.16 L1196.5 189.23 L1198.9 187.09 L1201.8 189.74 L1204.7 190.94 L1207.6 193.36 L1210.5 194.61 L1213.3 198.46 L1216.2 199.92 L1219.1 202.37 L1222.0 204.18 L1224.9 204.00 L1227.7 204.82 L1230.6 206.51 L1233.5 203.44 L1236.4 205.33 L1239.7 202.83 L1243.1 200.43 L1246.5 198.26 L1249.8 199.45 L1253.2 201.70 L1256.5 204.17 L1259.4 204.20 L1262.3 206.70 L1265.2 207.30 L1268.1 205.97 L1270.9 203.13 L1273.8 202.47 L1276.7 203.01 L1279.6 199.99 L1282.5 201.91 L1285.3 201.01 L1288.2 202.93 L1291.1 204.12 L1294.3 203.17 L1297.6 200.64 L1300.8 200.32 L1304.0 197.72 L1307.4 200.37 L1310.8 202.56 L1314.1 206.38 L1317.7 204.64 L1321.3 206.21 L1324.9 207.87 L1328.5 206.51 L1331.4 205.94 L1334.3 208.11 L1337.2 206.04 L1340.0 207.17 L1342.9 207.56 L1345.8 208.27 L1348.7 207.02 L1351.6 207.85 L1354.4 205.53 L1357.3 204.41 L1360.2 201.98 L1363.1 199.37 L1366.0 202.05 L1368.8 203.19 L1371.7 204.20 L1374.6 203.15 L1377.5 201.43 L1380.3 200.86 L1383.2 200.40 L1386.1 200.41 L1389.0 201.96 L1392.6 204.27 L1396.2 205.60 L1399.8 204.82 L1403.4 207.54 L1406.3 204.48 L1409.1 203.66 L1412.0 201.06 L1414.9 199.85 L1417.8 199.54 L1420.7 199.19 L1423.5 197.03 L1426.9 198.82 L1430.3 201.98 L1433.6 202.96 L1437.2 203.16 L1440.8 204.95 L1443.7 203.48 L1446.6 201.59 L1449.5 204.07 L1452.3 202.29 L1455.9 201.36 L1459.5 201.50 L1463.1 200.71 L1466.7 199.04 L1469.6 201.05 L1472.5 201.08 L1475.4 202.82 L1478.2 201.82 L1481.1 200.27 L1484.0 201.12 L1486.9 199.57 L1489.8 198.95 L1493.4 198.49 L1497.0 202.14 L1500.6 204.38 L1504.2 204.14 L1507.8 203.07 L1511.4 204.43 L1515.0 204.98 L1518.6 204.60 L1521.8 203.31 L1525.0 201.41 L1528.3 201.42 L1531.5 199.95 L1534.9 201.14 L1538.2 202.44 L1541.6 204.94 L1544.5 202.20 L1547.4 202.34 L1550.2 201.31 L1553.1 201.52 L1556.0 200.93 L1558.9 200.27 L1561.7 199.17 L1564.6 199.71 L1567.5 195.34 L1570.4 195.68 L1573.3 194.80 L1576.1 192.67 L1579.0 189.40 L1581.9 187.06 L1584.8 187.85 L1587.7 189.31 L1590.5 189.76 L1593.4 190.86 L1596.3 188.91 L1599.2 186.53 L1602.1 186.54 L1604.9 184.48 L1607.8 186.04 L1610.7 188.93 L1613.6 191.15 L1616.5 193.14 L1619.3 195.34 L1622.2 196.08 L1625.1 197.06 L1628.7 196.04 L1632.3 199.05 L1635.9 199.46 L1639.5 198.95 L1643.1 199.35 L1646.7 198.54 L1650.3 199.22 L1653.9 200.12 L1657.5 200.15 L1661.1 200.59 L1664.7 202.12 L1668.3 202.02 L1671.9 200.75 L1675.5 202.52 L1679.1 203.44 L1682.7 202.24 L1686.3 204.21 L1689.9 202.39 L1693.5 204.44 L1697.1 205.22 L1700.7 203.92 L1704.3 204.33 L1707.9 206.57 L1711.5 205.97 L1715.1 207.15 L1718.7 206.81 L1722.3 209.23 L1725.9 210.15 L1729.5 210.35 L1733.1 208.82 L1736.7 210.61 L1740.3 208.68 L1743.5 206.91 L1746.8 206.24 L1750.1 205.83 L1752.9 198.02 L1755.8 190.71 L1758.6 187.58 L1761.5 184.72 L1765.1 188.72 L1768.7 192.53 L1772.3 188.21 L1775.9 183.18 L1778.8 188.64 L1781.7 194.21 L1784.6 199.75 L1787.4 204.65 L1790.3 205.36 L1793.2 208.08 L1796.1 207.30 L1798.9 208.46 L1801.8 206.68 L1804.7 204.46 L1807.6 204.72 L1810.5 204.08 L1813.3 204.75 L1816.2 205.14 L1819.1 206.01 L1822.0 207.73 L1825.4 209.24 L1828.9 208.99 L1832.3 210.32 L1835.8 210.83 L1839.3 210.20 L1842.1 209.47 L1845.0 208.37 L1847.9 206.93 L1850.8 204.38 L1853.7 206.44 L1856.5 205.61 L1859.4 208.85 L1862.3 208.60 L1865.2 210.57 L1868.1 212.00 L1870.9 212.97 L1873.8 213.51 L1876.7 213.06 L1879.6 214.03 L1882.5 211.40 L1885.3 211.84 L1888.2 211.71 L1891.1 207.98 L1894.0 206.97 L1896.8 206.68 L1899.7 207.12 L1902.6 207.33 L1905.5 207.87 L1908.4 209.36 L1911.2 211.33 L1914.1 212.47 L1917.0 212.22 L1919.9 213.81 L1922.8 214.85 L1926.4 214.82 L1930.0 213.96 L1933.6 211.82 L1937.2 212.43 L1940.5 211.73 L1943.9 214.39 L1947.2 212.87 L1950.6 214.31 L1954.0 214.95 L1957.3 215.27 L1960.2 213.60 L1963.1 214.11 L1966.0 212.50 L1968.8 211.11 L1971.7 211.58 L1974.6 211.51 L1977.5 212.53 L1980.3 213.68 L1983.2 213.93 L1986.1 214.68 L1989.0 213.56 L1991.9 213.07 L1994.7 211.11 L1997.6 210.06 L2000.5 211.63 L2003.4 208.99 L2006.3 209.34 L2009.1 210.32 L2012.0 207.79 L2014.9 208.68 L2017.8 210.05 L2020.7 210.23 L2023.5 210.86 L2026.4 213.66 L2029.9 213.96 L2033.3 213.98 L2036.8 214.96 L2040.2 214.18 L2043.7 215.08 L2047.1 214.45 L2050.6 215.33 L2054.1 214.52 L2057.5 214.75 L2061.0 214.36 L2064.4 214.07 L2067.9 211.81 L2071.3 213.83 L2074.8 213.79 L2078.2 211.48 L2081.7 213.40 L2085.2 213.47 L2088.6 214.70 L2092.1 212.89 L2095.5 214.71 L2099.0 215.34 L2102.4 215.37 L2105.9 213.84 L2109.3 216.13 L2112.8 214.78 L2115.7 215.43 L2118.6 214.01 L2121.4 212.67 L2124.3 211.18 L2127.2 209.51 L2130.1 210.00 L2133.0 207.40 L2135.8 208.68 L2138.7 208.60 L2141.6 209.40 L2144.5 213.07 L2147.4 212.99 L2150.8 214.45 L2154.3 216.05 L2157.7 215.15 L2161.2 215.70 L2164.6 216.33 L2167.5 215.85 L2170.4 213.99 L2173.3 211.43 L2176.1 212.42 L2179.6 213.35 L2183.1 213.15 L2186.5 214.45 L2190.0 213.69 L2193.4 214.91 L2197.0 213.62 L2200.6 214.84 L2204.2 215.41 L2207.8 214.78 L2211.4 214.77 L2215.0 216.12 L2218.6 215.45 L2222.2 218.12 L2225.8 217.10 L2229.4 220.07 L2233.0 219.36 L2236.6 219.36 L2240.2 217.66 L2243.8 219.12 L2247.4 216.75 L2251.0 217.64 L2254.3 219.16 L2257.6 218.24 L2260.9 217.50 L2264.2 216.73 L2267.5 216.50 L2270.8 216.59 L2274.0 215.80 L2277.5 214.53 L2281.0 217.72 L2284.4 218.47 L2287.9 217.61 L2291.3 217.64 L2294.7 216.43 L2298.0 217.57 L2301.4 216.67 L2304.8 219.00 L2308.1 218.86 L2311.5 218.92 L2314.4 220.38 L2317.2 219.37"/>
<path class="c" stroke="#0000ff" stroke-width="8.5" transform="scale(1,1.6471)" d="M208.2 667.54 L208.6 672.56 L211.5 678.53 L214.4 683.23 L218.0 686.92 L221.6 689.92 L224.5 695.02 L227.4 700.64 L230.2 705.39 L233.1 709.05 L236.7 712.24 L240.3 716.45 L243.9 718.72 L247.5 722.46 L251.1 725.18 L254.7 728.57 L257.6 730.81 L260.5 731.09 L263.3 731.90 L266.2 733.19 L269.1 735.88 L272.0 737.37 L275.6 739.58 L279.2 742.46 L282.5 743.19 L285.9 742.89 L289.3 743.93 L292.1 745.62 L295.0 745.31 L297.9 747.83 L300.8 750.14 L303.7 751.68 L306.5 751.87 L310.1 749.33 L313.7 747.49 L317.3 749.12 L320.9 752.57 L323.8 752.61 L326.7 756.09 L329.6 756.04 L332.5 755.04 L335.3 753.51 L338.2 750.63 L341.1 752.20 L344.0 753.37 L347.6 756.73 L351.2 757.04 L354.0 756.25 L356.9 753.56 L359.8 753.74 L363.4 751.42 L367.0 750.91 L371.3 728.50 L375.1 684.80 L378.5 632.36 L382.0 579.91 L385.7 536.21 L388.6 525.95 L392.3 544.95 L395.2 588.65 L398.1 641.10 L401.6 684.80 L405.0 711.02 L407.9 721.51 L410.8 702.28 L413.1 658.58 L416.0 606.13 L419.4 562.43 L423.2 543.43 L427.5 562.43 L430.3 597.39 L433.2 641.10 L436.7 684.80 L439.6 719.76 L443.3 744.24 L447.6 754.73 L450.5 755.12 L453.4 753.41 L456.3 754.40 L459.1 754.93 L462.0 759.21 L464.9 759.73 L469.2 766.76 L472.8 769.09 L476.4 770.67 L479.3 771.09 L482.2 771.05 L485.1 771.22 L487.9 771.54 L490.8 770.52 L493.7 771.98 L496.6 771.29 L499.5 770.80 L502.3 771.47 L505.2 771.09 L508.1 769.86 L511.0 769.61 L513.8 770.32 L516.7 769.84 L519.6 768.10 L522.5 769.98 L525.4 767.82 L528.2 767.90 L531.1 766.99 L534.0 765.93 L536.9 767.95 L539.8 769.36 L542.6 770.76 L545.5 770.81 L548.4 769.85 L551.3 770.52 L554.2 772.78 L557.0 772.64 L559.9 773.41 L562.8 770.66 L565.7 771.93 L568.6 770.19 L571.4 767.65 L574.3 766.43 L577.2 764.91 L580.1 761.94 L583.0 759.83 L585.8 758.32 L588.7 757.59 L591.6 757.86 L594.5 757.06 L597.4 758.23 L600.2 759.55 L603.8 756.60 L607.4 753.08 L611.0 756.64 L614.6 759.85 L617.5 759.30 L620.4 760.52 L623.3 760.44 L626.1 760.60 L629.0 758.13 L631.9 756.38 L634.8 749.48 L637.7 742.49 L640.5 738.20 L643.4 733.96 L646.6 732.10 L649.8 730.38 L653.1 734.29 L656.4 738.94 L659.3 744.67 L662.1 749.54 L665.7 747.03 L669.3 746.36 L672.2 741.91 L675.1 738.92 L678.5 734.98 L681.2 738.05 L683.9 739.88 L686.6 742.26 L689.5 745.50 L692.4 748.20 L695.2 751.01 L698.1 755.36 L701.0 760.15 L703.9 759.09 L706.8 760.12 L709.6 761.40 L712.5 762.95 L715.4 761.69 L718.3 762.77 L721.9 763.58 L725.5 763.00 L729.1 760.65 L732.7 757.86 L735.6 755.78 L738.4 752.38 L741.3 749.42 L744.2 748.43 L747.1 746.42 L750.0 742.95 L753.6 739.90 L757.2 738.83 L761.5 735.64 L764.4 740.76 L767.2 745.95 L770.9 749.40 L774.5 751.41 L778.1 752.78 L781.7 751.44 L784.6 745.66 L787.4 740.87 L791.0 736.80 L794.6 733.88 L797.5 730.66 L800.4 728.80 L803.3 720.73 L806.1 712.87 L809.0 708.18 L811.9 704.31 L814.8 701.18 L817.7 698.97 L821.3 702.97 L824.9 707.77 L827.7 710.47 L830.6 712.67 L833.5 714.65 L836.4 714.08 L839.3 714.95 L842.1 715.92 L845.0 718.89 L847.9 717.52 L850.8 720.06 L853.7 716.90 L856.5 716.42 L859.4 715.82 L862.3 718.35 L865.2 721.30 L868.1 725.29 L871.7 726.18 L875.3 728.13 L878.9 729.24 L882.5 729.06 L886.8 716.59 L889.6 733.84 L892.5 747.83 L896.1 748.84 L899.7 749.14 L902.6 748.73 L905.5 748.76 L908.4 747.59 L911.2 746.98 L914.1 747.43 L917.0 746.23 L920.6 743.11 L924.2 739.30 L927.8 735.62 L931.4 732.32 L935.7 707.62 L939.5 672.66 L942.9 637.70 L947.2 602.73 L951.6 567.77 L955.9 532.81 L960.2 513.81 L964.5 541.55 L968.3 576.51 L971.7 611.47 L976.0 646.44 L980.3 663.92 L983.2 669.74 L986.1 675.57 L989.0 681.40 L991.9 683.71 L994.7 687.25 L997.6 690.22 L1000.5 716.36 L1003.4 730.35 L1006.3 733.45 L1009.1 733.81 L1013.5 746.08 L1017.8 760.07 L1020.7 762.59 L1023.5 765.49 L1026.4 764.92 L1029.3 763.33 L1032.2 764.39 L1035.8 762.40 L1039.4 761.96 L1043.7 751.32 L1046.6 737.34 L1050.0 731.60 L1052.6 737.02 L1055.2 742.58 L1058.1 742.03 L1061.0 744.16 L1063.8 750.21 L1066.7 754.97 L1069.6 754.84 L1072.5 752.97 L1075.4 747.07 L1078.2 741.07 L1081.1 746.91 L1084.0 751.49 L1087.6 754.08 L1091.2 754.86 L1094.8 753.63 L1098.4 751.21 L1101.3 755.95 L1104.2 761.58 L1107.8 764.61 L1111.4 768.81 L1115.0 766.56 L1118.6 762.95 L1121.4 764.62 L1124.3 765.32 L1127.2 765.73 L1130.1 765.77 L1133.0 767.63 L1135.8 769.21 L1139.4 770.89 L1143.0 774.24 L1146.4 772.98 L1149.8 771.36 L1153.1 771.38 L1156.7 773.29 L1160.3 775.35 L1163.9 775.26 L1167.5 772.16 L1171.1 768.40 L1174.7 765.45 L1178.3 760.16 L1181.9 756.69 L1184.8 755.61 L1187.7 753.68 L1190.5 754.08 L1194.1 757.89 L1197.7 759.85 L1201.3 758.51 L1204.9 758.01 L1209.3 746.31 L1212.9 750.71 L1216.5 754.68 L1220.1 760.62 L1223.7 765.25 L1227.3 770.39 L1230.9 773.87 L1233.7 774.36 L1236.6 774.89 L1239.5 777.12 L1242.4 775.95 L1245.2 776.63 L1248.1 775.91 L1251.0 775.37 L1253.9 774.91 L1256.8 776.66 L1259.6 778.48 L1262.5 777.38 L1265.8 777.10 L1269.0 777.33 L1272.3 780.18 L1275.5 779.53 L1278.8 779.48 L1281.7 778.09 L1284.6 775.40 L1287.4 775.09 L1290.3 777.36 L1293.2 777.32 L1296.1 779.50 L1299.4 781.05 L1302.8 779.07 L1306.1 780.33 L1309.0 779.23 L1311.9 777.20 L1314.8 774.78 L1318.1 777.44 L1321.5 778.06 L1324.9 779.23 L1328.2 780.97 L1331.6 783.75 L1334.9 783.57 L1338.2 783.20 L1341.4 782.90 L1344.7 785.05 L1347.9 783.47 L1350.8 782.10 L1353.7 782.89 L1356.5 782.61 L1359.4 781.16 L1362.3 781.14 L1365.2 780.14 L1368.1 778.51 L1370.9 776.97 L1373.8 778.63 L1376.7 777.85 L1379.6 778.10 L1382.5 776.20 L1385.3 774.06 L1388.2 775.18 L1391.1 777.21 L1394.0 779.70 L1396.8 778.88 L1399.7 778.65 L1402.6 778.50 L1405.5 779.27 L1408.4 780.06 L1411.2 781.31 L1414.1 781.56 L1417.0 778.42 L1419.9 776.89 L1423.5 776.29 L1427.1 772.62 L1430.4 772.92 L1433.8 775.97 L1437.2 777.17 L1440.0 775.99 L1442.9 776.72 L1445.8 778.43 L1448.7 781.02 L1451.6 783.67 L1454.4 782.25 L1457.3 783.02 L1460.2 783.41 L1463.1 781.81 L1466.0 779.52 L1468.8 779.28 L1471.7 778.95 L1474.6 779.30 L1477.5 780.88 L1480.3 779.13 L1483.2 781.35 L1486.1 779.54 L1489.0 779.30 L1491.9 780.00 L1494.7 779.56 L1497.6 781.54 L1500.5 782.83 L1503.4 783.00 L1506.3 783.84 L1509.1 786.86 L1512.0 787.70 L1514.9 788.94 L1517.8 786.96 L1520.7 788.37 L1523.5 787.99 L1526.4 790.19 L1529.3 790.37 L1532.2 786.95 L1535.1 784.98 L1537.9 783.39 L1540.8 785.82 L1543.7 786.49 L1546.6 786.07 L1549.5 785.70 L1552.3 785.15 L1555.2 783.28 L1558.6 785.31 L1561.9 788.00 L1565.3 788.68 L1568.6 789.03 L1572.0 790.01 L1575.4 788.27 L1578.2 786.91 L1581.1 785.33 L1584.0 785.97 L1586.9 785.92 L1589.8 786.60 L1592.6 786.41 L1595.5 784.91 L1598.9 784.18 L1602.2 782.39 L1605.6 779.95 L1608.5 780.83 L1611.4 783.03 L1614.2 784.12 L1617.6 782.32 L1621.0 783.17 L1624.3 781.56 L1627.2 782.12 L1630.1 783.32 L1633.0 785.89 L1635.8 785.19 L1638.7 784.75 L1641.6 786.76 L1644.5 786.98 L1647.4 788.91 L1650.2 789.55 L1653.1 788.21 L1656.0 788.96 L1658.9 789.17 L1661.7 789.44 L1664.6 788.22 L1667.5 787.73 L1671.1 786.85 L1674.7 787.25 L1678.3 787.94 L1681.9 787.58 L1684.8 787.42 L1687.7 787.76 L1690.5 789.76 L1693.4 789.26 L1696.3 790.08 L1699.2 790.61 L1702.1 789.98 L1704.9 788.67 L1707.8 788.73 L1710.7 788.71 L1714.3 788.23 L1717.9 789.49 L1721.5 789.28 L1725.1 789.43 L1728.0 789.96 L1730.9 789.91 L1733.7 790.59 L1736.6 792.03 L1739.5 789.99 L1742.4 790.22 L1745.2 790.89 L1748.1 790.51 L1751.6 788.78 L1755.1 786.27 L1758.6 785.72 L1761.5 782.69 L1764.4 778.44 L1767.3 775.24 L1770.6 771.58 L1774.0 769.95 L1777.4 768.89 L1780.7 771.50 L1784.1 771.28 L1787.4 773.43 L1791.0 775.83 L1794.6 776.05 L1798.9 785.60 L1801.8 787.64 L1804.7 790.00 L1807.6 790.69 L1810.5 790.71 L1813.3 790.77 L1816.2 790.50 L1819.8 792.55 L1823.4 792.00 L1827.0 792.70 L1830.6 792.00 L1833.5 791.28 L1836.4 792.42 L1839.3 793.34 L1842.1 793.16 L1845.0 792.78 L1847.9 790.06 L1850.8 788.66 L1853.7 787.10 L1856.5 786.95 L1859.4 787.83 L1862.3 789.46 L1865.2 789.60 L1868.8 789.85 L1872.4 790.37 L1876.0 793.43 L1879.6 792.73 L1883.2 792.72 L1886.8 791.40 L1890.4 789.58 L1894.0 789.21 L1897.6 791.57 L1901.2 791.32 L1904.8 792.12 L1908.4 792.53 L1912.0 794.53 L1915.6 793.05 L1919.2 795.75 L1922.8 795.41 L1926.4 794.69 L1930.0 794.27 L1933.6 791.42 L1937.2 790.24 L1940.8 790.76 L1944.4 792.38 L1948.0 793.76 L1951.6 793.72 L1955.2 793.06 L1958.8 795.32 L1962.4 793.31 L1966.0 795.36 L1969.3 794.34 L1972.7 794.94 L1976.0 795.87 L1979.4 794.67 L1982.7 796.64 L1986.1 796.25 L1989.7 796.31 L1993.3 794.72 L1996.9 795.20 L2000.5 793.70 L2003.7 792.58 L2007.0 791.90 L2010.2 789.59 L2013.5 789.42 L2016.7 789.68 L2019.9 790.26 L2023.2 792.77 L2026.4 793.87 L2030.0 793.59 L2033.6 792.85 L2037.2 794.57 L2040.8 794.06 L2043.7 794.59 L2046.6 794.66 L2049.5 792.77 L2052.3 793.28 L2055.9 789.45 L2059.5 785.68 L2062.4 782.53 L2065.3 779.06 L2068.2 783.26 L2071.0 787.56 L2074.6 790.40 L2078.2 794.23 L2081.1 796.48 L2084.0 796.56 L2086.9 795.97 L2089.8 796.55 L2093.4 795.97 L2097.0 796.24 L2100.6 794.80 L2104.2 796.19 L2107.8 796.74 L2111.4 794.27 L2115.0 793.64 L2118.6 793.26 L2122.2 792.12 L2125.8 791.74 L2129.4 789.72 L2133.0 788.90 L2136.6 788.78 L2140.2 792.30 L2143.8 792.28 L2147.4 792.24 L2151.0 792.55 L2154.5 793.83 L2158.1 792.87 L2161.7 793.62 L2164.6 796.50 L2167.5 795.95 L2170.4 797.80 L2173.3 796.13 L2176.1 797.28 L2179.0 795.98 L2181.9 795.48 L2184.8 795.44 L2187.7 797.03 L2190.5 797.56 L2193.4 798.23 L2197.0 797.65 L2200.6 794.45 L2204.2 793.55 L2207.8 793.59 L2211.4 793.55 L2215.0 794.32 L2218.6 795.14 L2222.2 797.29 L2225.7 796.06 L2229.1 798.58 L2232.6 797.92 L2236.0 799.11 L2239.5 798.68 L2242.9 797.85 L2246.4 798.39 L2249.9 800.01 L2253.3 799.57 L2256.8 798.86 L2260.4 798.22 L2264.0 799.05 L2267.6 796.95 L2271.2 797.81 L2274.8 797.40 L2278.4 797.59 L2282.0 798.83 L2285.6 797.52 L2288.9 796.57 L2292.3 796.88 L2295.6 795.90 L2298.5 795.29 L2301.4 791.90 L2305.0 794.11 L2308.6 797.74 L2312.9 797.63"/>
<path class="c" stroke="#000000" stroke-width="8.2" transform="scale(1,1.4146)" d="M208.4 1047.65 L208.6 1053.35 L213.0 1063.53 L221.6 1069.64 L231.7 1075.74 L243.2 1082.87 L254.7 1086.94 L269.1 1089.99 L283.5 1092.03 L297.9 1096.10 L312.3 1097.12 L323.8 1099.15 L335.3 1098.13 L341.1 1094.06 L345.4 1091.49 L349.7 1099.15 L354.0 1101.19 L361.2 1098.13 L368.4 1094.06 L374.2 1081.85 L378.5 1065.57 L382.0 1039.11 L384.9 998.40 L387.7 947.51 L390.6 886.45 L393.5 835.56 L397.2 805.51 L401.0 845.74 L403.0 927.16 L404.4 1008.57 L405.9 1059.46 L407.9 1071.67 L411.6 1065.57 L415.4 1039.11 L418.8 988.22 L422.3 927.16 L425.2 866.09 L427.5 825.38 L429.8 818.74 L433.2 845.74 L435.5 906.80 L437.5 967.87 L440.4 1028.93 L444.2 1069.64 L447.6 1089.99 L451.9 1094.06 L457.7 1089.99 L462.0 1077.78 L465.5 1074.19 L469.2 1085.92 L472.1 1100.17 L477.9 1106.28 L487.9 1108.31 L499.5 1107.29 L508.1 1103.70 L516.7 1108.31 L528.2 1109.33 L536.9 1106.28 L544.1 1100.65 L549.8 1107.29 L555.6 1111.36 L565.7 1109.33 L574.3 1108.31 L580.1 1104.24 L584.4 1089.99 L588.7 1073.71 L592.2 1068.08 L595.9 1081.85 L598.8 1094.06 L603.1 1085.92 L608.9 1081.85 L613.2 1073.71 L616.1 1059.46 L618.9 1056.89 L622.7 1073.71 L626.1 1094.06 L630.5 1100.17 L636.2 1098.13 L640.5 1079.82 L644.0 1049.28 L647.7 1018.75 L650.6 1009.05 L654.4 1028.93 L657.2 1065.57 L660.1 1089.99 L663.6 1096.10 L667.9 1087.96 L672.2 1065.57 L675.1 1051.32 L678.5 1047.73 L682.3 1059.46 L686.0 1077.78 L689.5 1057.43 L693.8 1049.76 L697.6 1065.57 L700.4 1089.99 L705.3 1101.19 L711.1 1099.15 L716.8 1094.54 L721.2 1104.24 L729.8 1105.26 L735.6 1100.17 L741.3 1094.06 L748.5 1092.03 L754.3 1079.82 L758.6 1067.60 L761.5 1065.03 L765.8 1079.82 L768.7 1098.13 L775.9 1103.22 L784.6 1108.31 L793.2 1106.28 L803.3 1103.22 L809.0 1089.99 L813.3 1069.64 L817.7 1060.96 L821.4 1073.71 L825.4 1087.96 L833.5 1082.33 L839.3 1087.96 L846.5 1094.06 L849.3 1075.74 L852.2 1049.28 L857.1 1037.55 L860.9 1053.35 L865.2 1075.74 L868.1 1059.46 L870.9 1039.11 L875.3 1034.50 L879.6 1049.28 L882.5 1073.71 L885.3 1092.03 L891.1 1099.15 L899.7 1094.06 L905.5 1084.37 L914.1 1087.96 L919.9 1075.74 L922.8 1057.91 L931.4 1063.53 L938.6 1069.64 L944.4 1055.39 L947.2 1008.57 L948.7 947.51 L950.1 866.09 L951.6 784.67 L953.3 708.96 M968.5 708.96 L970.6 784.67 L971.7 866.09 L973.2 927.16 L974.9 948.53 L978.9 927.16 L981.8 866.09 L984.7 805.03 L986.7 754.14 L988.7 729.79 L991.3 754.14 L993.3 784.67 L994.7 866.09 L996.2 947.51 L998.2 1007.56 L1001.9 967.87 L1004.8 931.23 L1007.1 924.58 L1010.6 947.51 L1012.6 988.22 L1014.3 1028.93 L1016.3 1057.43 L1022.1 1069.64 L1025.0 1085.92 L1029.3 1093.05 L1036.5 1091.01 L1042.3 1079.82 L1046.6 1059.46 L1050.9 1045.21 L1055.2 1028.93 L1058.1 1010.61 L1061.5 1004.98 L1064.4 1024.86 L1066.7 1053.35 L1069.6 1069.64 L1075.4 1071.67 L1079.7 1059.46 L1084.0 1043.66 L1091.2 1047.25 L1095.5 1037.07 L1099.8 1032.46 L1104.2 1045.21 L1107.0 1069.64 L1109.9 1083.89 L1115.7 1079.82 L1121.4 1074.19 L1127.2 1085.92 L1134.4 1087.96 L1140.2 1084.37 L1147.4 1093.05 L1156.0 1088.44 L1161.7 1096.10 L1167.5 1103.22 L1173.3 1096.10 L1179.0 1073.71 L1181.9 1049.28 L1186.2 1034.50 L1190.5 1049.28 L1193.4 1069.64 L1196.9 1085.92 L1202.1 1069.64 L1205.5 1028.93 L1208.4 1002.47 L1211.3 995.82 L1215.0 1008.57 L1219.3 1039.11 L1225.1 1061.50 L1230.9 1079.82 L1236.6 1094.06 L1243.8 1100.17 L1251.0 1092.03 L1255.3 1083.89 L1260.2 1083.89 L1265.4 1096.10 L1270.2 1100.97 L1280.2 1104.02 L1290.3 1099.95 L1301.8 1099.95 L1307.6 1095.88 L1311.0 1085.70 L1315.6 1082.11 L1320.5 1093.84 L1324.9 1099.95 L1336.4 1099.95 L1350.8 1097.38 L1360.9 1103.00 L1366.6 1097.91 L1370.9 1081.63 L1375.3 1073.97 L1381.0 1085.70 L1386.8 1092.83 L1396.8 1093.84 L1405.5 1091.27 L1412.7 1096.90 L1419.9 1091.81 L1422.8 1081.63 L1430.0 1079.60 L1434.3 1069.42 L1438.6 1064.81 L1444.4 1075.52 L1448.7 1087.74 L1454.4 1097.91 L1463.1 1096.90 L1471.7 1091.81 L1480.3 1084.68 L1487.5 1082.65 L1493.3 1078.04 L1499.1 1087.74 L1503.4 1099.95 L1510.6 1105.04 L1520.7 1106.06 L1530.7 1104.02 L1536.5 1097.38 L1542.3 1105.04 L1552.3 1108.09 L1563.8 1105.52 L1575.4 1109.11 L1586.9 1109.11 L1598.4 1103.48 L1609.9 1106.06 L1620.0 1099.41 L1630.1 1104.02 L1638.7 1101.45 L1650.2 1108.09 L1661.7 1111.14 L1673.3 1107.07 L1684.8 1105.04 L1696.3 1103.00 L1707.8 1100.97 L1716.5 1098.39 L1725.1 1106.06 L1736.6 1107.07 L1748.1 1104.02 L1758.6 1097.91 L1764.4 1077.56 L1767.3 1047.03 L1770.2 1035.30 L1774.5 1038.89 L1778.8 1051.10 L1783.1 1032.78 L1787.4 1023.08 L1790.9 1036.85 L1793.2 1067.38 L1796.1 1091.81 L1801.8 1099.95 L1810.5 1097.91 L1817.7 1089.77 L1822.0 1089.77 L1827.7 1097.91 L1834.9 1104.02 L1843.6 1106.06 L1849.3 1097.91 L1855.1 1087.74 L1859.4 1085.16 L1865.2 1095.88 L1872.4 1106.06 L1882.5 1109.11 L1891.1 1104.02 L1896.8 1091.81 L1902.6 1087.20 L1909.8 1097.91 L1918.4 1106.06 L1928.5 1105.04 L1942.9 1101.45 L1954.4 1104.02 L1966.0 1107.07 L1980.3 1109.11 L1991.9 1107.07 L2003.4 1103.00 L2014.9 1096.90 L2025.0 1093.31 L2035.1 1099.95 L2043.7 1106.06 L2055.2 1109.11 L2066.7 1108.09 L2075.4 1105.04 L2084.0 1101.45 L2095.5 1107.07 L2107.0 1109.11 L2115.7 1106.06 L2124.3 1097.91 L2131.5 1085.70 L2138.7 1081.63 L2145.9 1079.06 L2153.1 1087.74 L2160.3 1095.88 L2170.4 1099.95 L2181.9 1104.02 L2193.4 1105.04 L2204.9 1101.99 L2219.3 1098.39 L2230.9 1104.02 L2239.5 1108.09 L2251.0 1109.11 L2262.5 1105.52 L2274.0 1108.09 L2281.2 1101.99 L2286.1 1097.38 L2294.2 1104.02 L2302.8 1107.07 L2312.9 1109.11"/>
<rect x="203" y="41.9" width="2113" height="2.4" fill="#9aa6a8"/>
<rect x="203" y="44.2" width="2115.6" height="2.8" fill="#000"/>
<rect x="206" y="44.2" width="3" height="1675.2" fill="#000"/>
<rect x="203" y="1714" width="2116" height="2.6" fill="#000"/>
<rect x="206" y="1714" width="2113" height="5.4" fill="#000"/>
<rect x="2310" y="44.2" width="6" height="141" fill="#000"/>
<rect x="2310" y="185" width="3.1" height="279" fill="#4f6b70"/>
<rect x="2313.1" y="185" width="2.9" height="279" fill="#000"/>
<rect x="2313.1" y="464" width="2.9" height="278" fill="#000"/>
<rect x="2316" y="464" width="2.7" height="278" fill="#b4aeae"/>
<rect x="2313.1" y="742" width="5.8" height="977.4" fill="#000"/>
<rect x="2313.1" y="1719.4" width="2.9" height="10.3" fill="#4f6b70"/>
<rect x="2316" y="1719.4" width="2.9" height="13.5" fill="#000"/>
<rect x="277.0" y="1716" width="5.0" height="8.9" fill="#000"/>
<rect x="463.8" y="1716" width="5.2" height="16.8" fill="#000"/>
<rect x="648.9" y="1716" width="5.0" height="8.9" fill="#000"/>
<rect x="833.8" y="1716" width="5.2" height="16.8" fill="#000"/>
<rect x="1018.8" y="1716" width="5.0" height="8.9" fill="#000"/>
<rect x="1203.7" y="1716" width="5.2" height="16.8" fill="#000"/>
<rect x="1388.7" y="1716" width="5.0" height="8.9" fill="#000"/>
<rect x="1573.6" y="1716" width="5.2" height="16.8" fill="#000"/>
<rect x="1758.6" y="1716" width="5.0" height="8.9" fill="#000"/>
<rect x="1943.5" y="1716" width="5.2" height="16.8" fill="#000"/>
<rect x="2128.5" y="1716" width="5.0" height="8.9" fill="#000"/>
<text x="466.8" y="1801.6" font-size="80" text-anchor="middle">10</text>
<text x="836.8" y="1801.6" font-size="80" text-anchor="middle">20</text>
<text x="1206.7" y="1801.6" font-size="80" text-anchor="middle">30</text>
<text x="1576.6" y="1801.6" font-size="80" text-anchor="middle">40</text>
<text x="1946.5" y="1801.6" font-size="80" text-anchor="middle">50</text>
<text x="2316.4" y="1801.6" font-size="80" text-anchor="middle">60</text>
<text x="1043.5" y="1917.5" font-size="78"><tspan>2</tspan><tspan font-weight="normal">θ</tspan> <tspan font-size="52" font-weight="normal" dy="-2">(</tspan><tspan dy="2">Degree</tspan><tspan font-size="52" font-weight="normal" dy="-2">)</tspan></text>
<text transform="translate(80.5,1138.5) rotate(-90)" font-size="79">Intensity (a.u.)</text>
<text x="1848.5" y="281.3" font-size="64">20-ZSM-5</text>
<text x="1845.8" y="507.3" font-size="64">30-ZSM-5</text>
<text x="1849.0" y="749.8" font-size="64">40-ZSM-5</text>
<text x="1853.8" y="983.3" font-size="64">50-ZSM-5</text>
<text x="1852.3" y="1228.7" font-size="64">60-ZSM-5</text>
<text x="1824.3" y="1413.8" font-size="63.4">Pristine ZSM-5</text>
</svg></body></html>
